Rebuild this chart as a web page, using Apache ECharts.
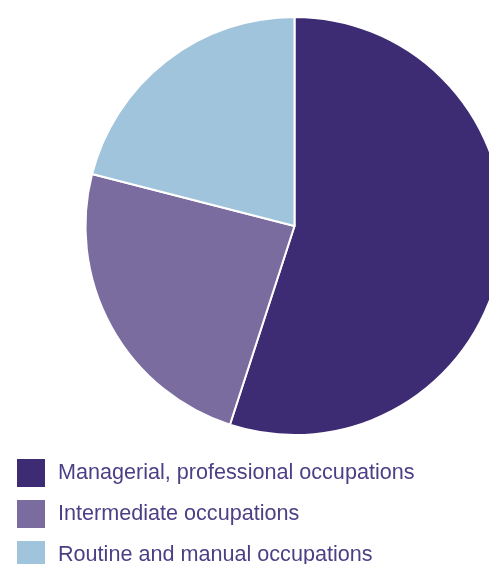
<!DOCTYPE html>
<html>
<head>
<meta charset="utf-8">
<script src="https://cdn.jsdelivr.net/npm/echarts@6/dist/echarts.min.js"></script>
<style>
  html, body { margin: 0; padding: 0; background: #ffffff; }
  #chart { width: 489px; height: 564px; }
</style>
</head>
<body>
<div id="chart"></div>
<script>
// Occupational groups and their shares (%)
const categories = [
  'Managerial, professional occupations',
  'Intermediate occupations',
  'Routine and manual occupations'
];
const shares = [55, 24, 21];
const colors = ['#3d2b74', '#7b6ca0', '#a0c4dc'];

const chart = echarts.init(document.getElementById('chart'), null, { renderer: 'canvas' });

// One legend row per category, stacked down the left edge
const legendRows = categories.map((name, i) => ({
  orient: 'vertical',
  left: 17,
  top: 459 + i * 41,
  padding: 0,
  itemWidth: 28,
  itemHeight: 28,
  itemGap: 13,
  icon: 'rect',
  selectedMode: false,
  itemStyle: { borderWidth: 0 },
  textStyle: {
    fontFamily: 'Liberation Sans, Arial, sans-serif',
    fontSize: 21.6,
    color: '#4d3f85',
    padding: [0, 0, 0, 8]
  },
  data: [name]
}));

chart.setOption({
  animation: false,
  color: colors,
  legend: legendRows,
  series: [{
    type: 'pie',
    center: [294.5, 226],
    radius: [0, 209],
    startAngle: 90,
    clockwise: true,
    silent: true,
    label: { show: false },
    labelLine: { show: false },
    itemStyle: { borderColor: '#ffffff', borderWidth: 2 },
    data: categories.map((name, i) => ({ name, value: shares[i] }))
  }]
});
</script>
</body>
</html>
